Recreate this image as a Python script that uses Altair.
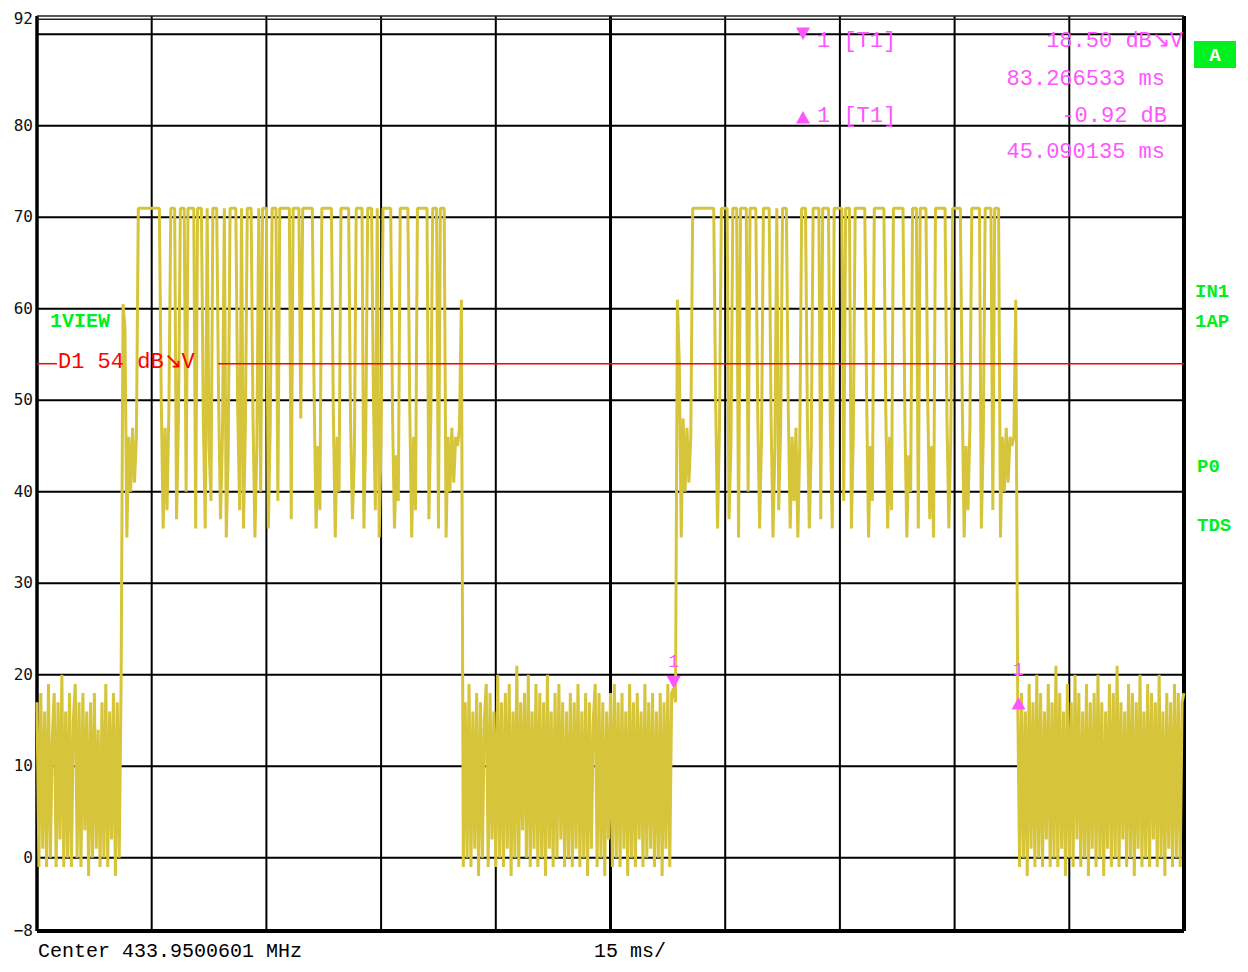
import altair as alt
import pandas as pd

# ---------------- data ----------------
SWEEP_MS = 150.0  # 10 divisions x 15 ms/

# zero-span trace, sweep points, dBuV
noise_a = [17, -1, 18, 1, 16, -1, 19, 0, 13, 18, -1, 17, 2, 20, -1, 16, 0, 18, -1, 15,
           19, 0, 17, -1, 18, 3, 16, -2, 17, 0, 18, 1, 14, -1, 17, 0, 19, -1, 16, 2,
           18, -2, 17, 0, 19]
preamble_a = [60.5, 58, 35, 46, 40, 47, 41, 46]
carrier_a = [71, 71, 71, 71, 71, 71, 71, 71, 71, 71, 71, 71]
pulses_a = [
    50, 36, 47, 38, 49,
    71, 71, 71,
    37, 48,
    71, 71, 71,
    40,
    71, 71, 71, 71,
    36,
    71, 71, 71,
    48, 36, 71, 45, 39,
    71, 71, 71,
    50, 37, 46, 71, 35, 44,
    71, 71, 71, 71,
    49, 38, 71, 36, 47,
    71, 71, 71,
    48, 35, 45, 71, 40,
    71, 71, 71,
    36, 47,
    71, 71, 71,
    39,
    71, 71, 71, 71, 71, 71,
    37,
    71, 71, 71, 71,
    48,
    71, 71, 71, 71, 71, 71,
    50, 36, 45, 38,
    71, 71, 71, 71, 71, 71,
    49, 35, 46, 40,
    71, 71, 71, 71, 71,
    48, 37, 44,
    71, 71, 71, 71,
    36, 47,
    71, 71, 71,
    50, 38, 71, 35, 46,
    71, 71, 71, 71, 71,
    48, 36, 44, 39,
    71, 71, 71, 71, 71,
    49, 35, 46, 38,
    71, 71, 71, 71, 71, 71,
    37, 48,
    71, 71, 71,
    36,
    71, 71, 71,
]
tail_a = [35, 46, 40, 47, 41, 46, 45, 47]
spike_a = [61]
noise_b = [-1, 17, 0, 19, -1, 16, 1, 18, -2, 17, 0, 15, 19, -1, 18, 2, 16, -1, 20, 0,
           17, -1, 18, 1, 19, -2, 16, 0, 21, -1, 17, 3, 18, 0, 20, -1, 16, 1, 19, -1,
           18, 0, 17, -2, 20, 1, 16, -1, 18, 0, 19, 2, 17, -1, 16, 0, 18, -1, 17, 1,
           19, -1, 16, 0, 18, -2, 17, 1, 15, 19, -1, 18, 0, 17, -2, 16, 2, 18, -1, 19,
           0, 17, -1, 18, 1, 16, -2, 19, 0, 17, -1, 18, 2, 16, -1, 19, 0, 17, 1, 18,
           -1, 16, 0, 18, -2, 17, 1, 19, -1, 18, 18.5, 17]
preamble_b = [61, 54, 35, 48, 40, 47, 41, 46]
carrier_b = [71, 71, 71, 71, 71, 71, 71, 71, 71, 71, 71, 71]
pulses_b = [
    50, 36, 47,
    71, 71, 71, 71,
    37, 45,
    71, 71, 71,
    35,
    71, 71, 71, 71,
    40,
    71, 71, 71, 71,
    49, 36, 46,
    71, 71, 71, 71,
    48, 35, 45, 71, 38, 47,
    71, 71, 71,
    49, 36, 46, 39, 47, 35, 45,
    71, 71, 71,
    48, 36, 45,
    71, 71, 71, 71,
    37,
    71, 71, 71, 71,
    47, 36,
    71, 71, 71, 71, 71,
    39,
    71, 71, 71,
    36, 46,
    71, 71, 71, 71, 71, 71,
    50, 35, 45, 39,
    71, 71, 71, 71, 71, 71,
    49, 36, 46, 38,
    71, 71, 71, 71, 71, 71,
    48, 35, 44, 40,
    71, 71, 71,
    36,
    71, 71, 71, 71,
    49, 37, 45, 35,
    71, 71, 71, 71, 71, 71,
    48, 36, 46,
    71, 71, 71, 71, 71,
    50, 35, 45, 38, 47,
    71, 71, 71, 71, 71,
    36, 46,
    71, 71, 71, 71,
    38,
    71, 71, 71,
]
tail_b = [35, 46, 40, 47, 41, 46, 45, 46]
spike_b = [61]
noise_c = [17.6, -1, 18, 0, 16, -2, 19, 1, 17, -1, 20, 0, 18, -1, 16, 2, 19, -1, 17, 0,
           21, -1, 18, 1, 16, -2, 19, 0, 17, -1, 20, 2, 18, -1, 16, 0, 19, -2, 17, 1,
           18, -1, 20, 0, 17, -2, 16, 1, 19, -1, 18, 0, 21, -1, 17, 2, 16, -1, 19, 0,
           18, -2, 17, 1, 20, -1, 16, 0, 19, -1, 18, 2, 17, -1, 20, 0, 16, -2, 18, 1,
           17, -1, 19, 0, 18, -1, 17, 18]

trace_db = (noise_a + preamble_a + carrier_a + pulses_a + tail_a + spike_a +
            noise_b + preamble_b + carrier_b + pulses_b + tail_b + spike_b + noise_c)
n_pts = len(trace_db)
sweep_ms = [SWEEP_MS * k / (n_pts - 1) for k in range(n_pts)]

# markers
marker_ms = [83.266533]
marker_db = [18.50]
delta_ms = [83.266533 + 45.090135]
delta_db = [18.50 - 0.92]

# display line D1 at 54 dBuV (drawn with a gap where its label sits)
d1_level = 54
d1_start_ms = [0.0, 23.7]
d1_end_ms = [2.6, 150.0]

# grid / axis
grid_db = [0, 10, 20, 30, 40, 50, 60, 70, 80, 90]
grid_ms = [15, 30, 45, 60, 90, 105, 120, 135]
center_ms = [75]
ytick_top = [92]
ytick_labels = [80, 70, 60, 50, 40, 30, 20, 10, 0, -8]

# texts
txt_center = "Center 433.9500601 MHz"
txt_span = "15 ms/"
txt_view = "1VIEW"
txt_d1 = "D1 54 dB\u2198V"
txt_m1 = "1 [T1]"
txt_m1_val = "18.50 dB\u2198V"
txt_m1_time = "83.266533 ms"
txt_d_val = "-0.92 dB"
txt_d_time = "45.090135 ms"
side_texts = ["IN1", "1AP", "P0", "TDS"]
txt_box = "A"

# ---------------- style ----------------
W, H = 1147, 915
YELLOW = "#D6C53A"
MAGENTA = "#FF55FF"
GREEN = "#00EE22"
RED = "#FF0000"
MONO = "Liberation Mono"

xs = alt.Scale(domain=[0, SWEEP_MS], nice=False, zero=False)
ys = alt.Scale(domain=[-8, 92], nice=False, zero=False)

trace_df = pd.DataFrame({"ms": sweep_ms, "db": trace_db})

hgrid = alt.Chart(pd.DataFrame({"db": grid_db})).mark_rule(color="black", strokeWidth=2).encode(
    y=alt.Y("db:Q", scale=ys, axis=None))
vgrid = alt.Chart(pd.DataFrame({"ms": grid_ms})).mark_rule(color="black", strokeWidth=2).encode(
    x=alt.X("ms:Q", scale=xs, axis=None))
vcenter = alt.Chart(pd.DataFrame({"ms": center_ms})).mark_rule(color="black", strokeWidth=3).encode(
    x=alt.X("ms:Q", scale=xs, axis=None))

frame_left = alt.Chart(pd.DataFrame({"ms": [0.0]})).mark_rule(color="black", strokeWidth=3.5).encode(
    x=alt.X("ms:Q", scale=xs, axis=None))
frame_right = alt.Chart(pd.DataFrame({"ms": [SWEEP_MS]})).mark_rule(color="black", strokeWidth=4).encode(
    x=alt.X("ms:Q", scale=xs, axis=None))
frame_bottom = alt.Chart(pd.DataFrame({"db": [-8]})).mark_rule(color="black", strokeWidth=4).encode(
    y=alt.Y("db:Q", scale=ys, axis=None))
frame_top = alt.Chart(pd.DataFrame({"db": [92, 91.65]})).mark_rule(color="#222222", strokeWidth=1.5).encode(
    y=alt.Y("db:Q", scale=ys, axis=None))

trace = alt.Chart(trace_df).mark_line(
    color=YELLOW, strokeWidth=3, strokeJoin="bevel", strokeCap="butt"
).encode(
    x=alt.X("ms:Q", scale=xs, axis=None),
    y=alt.Y("db:Q", scale=ys, axis=None),
    order=alt.Order("ms:Q"),
)

# y tick labels drawn through the y scale
ylabels = alt.Chart(pd.DataFrame({"db": ytick_labels})).mark_text(
    font="DejaVu Sans Mono", fontSize=16, color="#111111", align="right", baseline="middle"
).encode(
    y=alt.Y("db:Q", scale=ys, axis=None), x=alt.value(-4), text=alt.Text("db:Q", format="d"))
ylabel_top = alt.Chart(pd.DataFrame({"db": ytick_top})).mark_text(
    font="DejaVu Sans Mono", fontSize=16, color="#111111", align="right", baseline="middle", dy=3
).encode(
    y=alt.Y("db:Q", scale=ys, axis=None), x=alt.value(-4), text=alt.Text("db:Q", format="d"))

d1_df = pd.DataFrame({"x0": d1_start_ms, "x1": d1_end_ms, "db": [d1_level] * len(d1_start_ms)})
d1_line = alt.Chart(d1_df).mark_rule(color=RED, strokeWidth=1.5).encode(
    x=alt.X("x0:Q", scale=xs, axis=None), x2="x1:Q",
    y=alt.Y("db:Q", scale=ys, axis=None))

TRI_DOWN = "M-1,-1.8L1,-1.8L0,0Z"
TRI_UP = "M-1,1.8L1,1.8L0,0Z"

m1_df = pd.DataFrame({"ms": marker_ms, "db": marker_db, "lab": ["1"]})
d_df = pd.DataFrame({"ms": delta_ms, "db": delta_db, "lab": ["1"]})

m1_sym = alt.Chart(m1_df).mark_point(shape=TRI_DOWN, filled=True, size=196, color=MAGENTA, opacity=1).encode(
    x=alt.X("ms:Q", scale=xs, axis=None), y=alt.Y("db:Q", scale=ys, axis=None))
d_sym = alt.Chart(d_df).mark_point(shape=TRI_UP, filled=True, size=196, color=MAGENTA, opacity=1).encode(
    x=alt.X("ms:Q", scale=xs, axis=None), y=alt.Y("db:Q", scale=ys, axis=None))
m1_lab = alt.Chart(m1_df).mark_text(font=MONO, fontSize=18, color=MAGENTA, dy=-27, baseline="middle").encode(
    x=alt.X("ms:Q", scale=xs, axis=None), y=alt.Y("db:Q", scale=ys, axis=None), text="lab:N")
d_lab = alt.Chart(d_df).mark_text(font=MONO, fontSize=18, color=MAGENTA, dy=-27, baseline="middle").encode(
    x=alt.X("ms:Q", scale=xs, axis=None), y=alt.Y("db:Q", scale=ys, axis=None), text="lab:N")

one = pd.DataFrame({"k": [0]})


def label(text, x, y, color="black", align="left", baseline="middle", size=22, weight="normal", font=MONO):
    return alt.Chart(pd.DataFrame({"t": [text]})).mark_text(
        font=font, fontSize=size, fontWeight=weight, color=color, align=align, baseline=baseline
    ).encode(text="t:N", x=alt.value(x), y=alt.value(y))


hdr_down = alt.Chart(one).mark_point(shape=TRI_DOWN, filled=True, size=196, color=MAGENTA, opacity=1).encode(
    x=alt.value(766), y=alt.value(24))
hdr_up = alt.Chart(one).mark_point(shape=TRI_UP, filled=True, size=196, color=MAGENTA, opacity=1).encode(
    x=alt.value(766), y=alt.value(95))

box = alt.Chart(one).mark_rect(color="#00F020").encode(
    x=alt.value(1157), x2=alt.value(1199), y=alt.value(25), y2=alt.value(52))

texts = [
    label(txt_center, 1, 941, baseline="alphabetic", size=20),
    label(txt_span, 557, 941, baseline="alphabetic", size=20),
    label(txt_view, 13, 305, color=GREEN, weight="bold", size=20),
    label(txt_d1, 21, 345, color=RED),
    label(txt_m1, 780, 24, color=MAGENTA),
    label(txt_m1, 780, 99, color=MAGENTA),
    label(txt_m1_val, 1146, 24, color=MAGENTA, align="right"),
    label(txt_m1_time, 1128, 62, color=MAGENTA, align="right"),
    label(txt_d_val, 1130, 99, color=MAGENTA, align="right"),
    label(txt_d_time, 1128, 135, color=MAGENTA, align="right"),
    label(side_texts[0], 1158, 275, color=GREEN, weight="bold", size=19),
    label(side_texts[1], 1158, 305, color=GREEN, weight="bold", size=19),
    label(side_texts[2], 1160, 450, color=GREEN, weight="bold", size=19),
    label(side_texts[3], 1160, 509, color=GREEN, weight="bold", size=19),
    label(txt_box, 1178, 39, color="white", align="center", weight="bold", size=19),
]

chart = alt.layer(
    hgrid, vgrid, vcenter, frame_left, frame_right, frame_bottom, frame_top, trace,
    ylabels, ylabel_top,
    d1_line, m1_sym, d_sym, m1_lab, d_lab, hdr_down, hdr_up, box, *texts
).properties(
    width=W, height=H,
    padding={"left": 29, "top": 8, "right": 56, "bottom": 33},
    autosize=alt.AutoSizeParams(type="none"),
    background="white",
).configure_view(stroke=None)

chart.save("out.html", embed_options={"renderer": "svg", "actions": False})
